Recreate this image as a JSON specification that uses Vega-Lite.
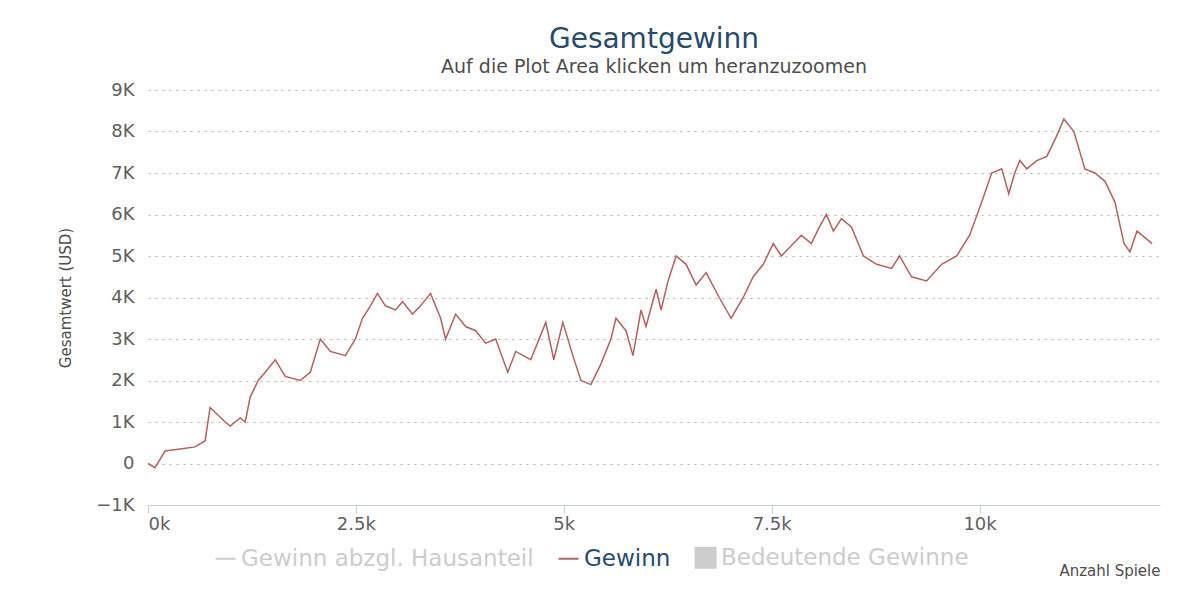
{
  "$schema": "https://vega.github.io/schema/vega-lite/v6.json",
  "width": 1200,
  "height": 604,
  "autosize": {"type": "fit", "contains": "padding"},
  "padding": {"top": 26, "left": 58, "right": 40, "bottom": 26},
  "background": "white",
  "config": {
    "font": "DejaVu Sans",
    "view": {"stroke": null}
  },
  "title": {
    "text": "Gesamtgewinn",
    "subtitle": "Auf die Plot Area klicken um heranzuzoomen",
    "fontSize": 28,
    "fontWeight": "normal",
    "color": "#274b6d",
    "subtitleFontSize": 19,
    "subtitleColor": "#4d4d4d",
    "subtitlePadding": 4,
    "offset": 4
  },
  "data": {
    "values": [
      {"spiele": 0, "wert": 0, "serie": "Gewinn"},
      {"spiele": 84, "wert": -100, "serie": "Gewinn"},
      {"spiele": 205, "wert": 300, "serie": "Gewinn"},
      {"spiele": 386, "wert": 350, "serie": "Gewinn"},
      {"spiele": 566, "wert": 400, "serie": "Gewinn"},
      {"spiele": 687, "wert": 550, "serie": "Gewinn"},
      {"spiele": 747, "wert": 1350, "serie": "Gewinn"},
      {"spiele": 928, "wert": 1000, "serie": "Gewinn"},
      {"spiele": 988, "wert": 900, "serie": "Gewinn"},
      {"spiele": 1109, "wert": 1100, "serie": "Gewinn"},
      {"spiele": 1169, "wert": 1000, "serie": "Gewinn"},
      {"spiele": 1229, "wert": 1600, "serie": "Gewinn"},
      {"spiele": 1325, "wert": 2000, "serie": "Gewinn"},
      {"spiele": 1410, "wert": 2200, "serie": "Gewinn"},
      {"spiele": 1530, "wert": 2500, "serie": "Gewinn"},
      {"spiele": 1651, "wert": 2100, "serie": "Gewinn"},
      {"spiele": 1831, "wert": 2000, "serie": "Gewinn"},
      {"spiele": 1952, "wert": 2200, "serie": "Gewinn"},
      {"spiele": 2072, "wert": 3000, "serie": "Gewinn"},
      {"spiele": 2193, "wert": 2700, "serie": "Gewinn"},
      {"spiele": 2374, "wert": 2600, "serie": "Gewinn"},
      {"spiele": 2494, "wert": 3000, "serie": "Gewinn"},
      {"spiele": 2579, "wert": 3500, "serie": "Gewinn"},
      {"spiele": 2675, "wert": 3800, "serie": "Gewinn"},
      {"spiele": 2759, "wert": 4100, "serie": "Gewinn"},
      {"spiele": 2855, "wert": 3800, "serie": "Gewinn"},
      {"spiele": 2976, "wert": 3700, "serie": "Gewinn"},
      {"spiele": 3061, "wert": 3900, "serie": "Gewinn"},
      {"spiele": 3181, "wert": 3600, "serie": "Gewinn"},
      {"spiele": 3278, "wert": 3800, "serie": "Gewinn"},
      {"spiele": 3398, "wert": 4100, "serie": "Gewinn"},
      {"spiele": 3519, "wert": 3500, "serie": "Gewinn"},
      {"spiele": 3579, "wert": 3000, "serie": "Gewinn"},
      {"spiele": 3699, "wert": 3600, "serie": "Gewinn"},
      {"spiele": 3820, "wert": 3300, "serie": "Gewinn"},
      {"spiele": 3940, "wert": 3200, "serie": "Gewinn"},
      {"spiele": 4061, "wert": 2900, "serie": "Gewinn"},
      {"spiele": 4181, "wert": 3000, "serie": "Gewinn"},
      {"spiele": 4326, "wert": 2200, "serie": "Gewinn"},
      {"spiele": 4422, "wert": 2700, "serie": "Gewinn"},
      {"spiele": 4603, "wert": 2500, "serie": "Gewinn"},
      {"spiele": 4784, "wert": 3400, "serie": "Gewinn"},
      {"spiele": 4880, "wert": 2500, "serie": "Gewinn"},
      {"spiele": 4989, "wert": 3400, "serie": "Gewinn"},
      {"spiele": 5109, "wert": 2600, "serie": "Gewinn"},
      {"spiele": 5206, "wert": 2000, "serie": "Gewinn"},
      {"spiele": 5326, "wert": 1900, "serie": "Gewinn"},
      {"spiele": 5447, "wert": 2400, "serie": "Gewinn"},
      {"spiele": 5567, "wert": 3000, "serie": "Gewinn"},
      {"spiele": 5628, "wert": 3500, "serie": "Gewinn"},
      {"spiele": 5748, "wert": 3200, "serie": "Gewinn"},
      {"spiele": 5832, "wert": 2600, "serie": "Gewinn"},
      {"spiele": 5929, "wert": 3700, "serie": "Gewinn"},
      {"spiele": 5989, "wert": 3300, "serie": "Gewinn"},
      {"spiele": 6110, "wert": 4200, "serie": "Gewinn"},
      {"spiele": 6170, "wert": 3700, "serie": "Gewinn"},
      {"spiele": 6254, "wert": 4400, "serie": "Gewinn"},
      {"spiele": 6351, "wert": 5000, "serie": "Gewinn"},
      {"spiele": 6471, "wert": 4800, "serie": "Gewinn"},
      {"spiele": 6592, "wert": 4300, "serie": "Gewinn"},
      {"spiele": 6712, "wert": 4600, "serie": "Gewinn"},
      {"spiele": 6869, "wert": 4000, "serie": "Gewinn"},
      {"spiele": 7013, "wert": 3500, "serie": "Gewinn"},
      {"spiele": 7158, "wert": 4000, "serie": "Gewinn"},
      {"spiele": 7278, "wert": 4500, "serie": "Gewinn"},
      {"spiele": 7399, "wert": 4800, "serie": "Gewinn"},
      {"spiele": 7519, "wert": 5300, "serie": "Gewinn"},
      {"spiele": 7616, "wert": 5000, "serie": "Gewinn"},
      {"spiele": 7857, "wert": 5500, "serie": "Gewinn"},
      {"spiele": 7977, "wert": 5300, "serie": "Gewinn"},
      {"spiele": 8074, "wert": 5700, "serie": "Gewinn"},
      {"spiele": 8158, "wert": 6000, "serie": "Gewinn"},
      {"spiele": 8242, "wert": 5600, "serie": "Gewinn"},
      {"spiele": 8339, "wert": 5900, "serie": "Gewinn"},
      {"spiele": 8459, "wert": 5700, "serie": "Gewinn"},
      {"spiele": 8604, "wert": 5000, "serie": "Gewinn"},
      {"spiele": 8761, "wert": 4800, "serie": "Gewinn"},
      {"spiele": 8942, "wert": 4700, "serie": "Gewinn"},
      {"spiele": 9038, "wert": 5000, "serie": "Gewinn"},
      {"spiele": 9182, "wert": 4500, "serie": "Gewinn"},
      {"spiele": 9363, "wert": 4400, "serie": "Gewinn"},
      {"spiele": 9544, "wert": 4800, "serie": "Gewinn"},
      {"spiele": 9725, "wert": 5000, "serie": "Gewinn"},
      {"spiele": 9881, "wert": 5500, "serie": "Gewinn"},
      {"spiele": 10026, "wert": 6300, "serie": "Gewinn"},
      {"spiele": 10146, "wert": 7000, "serie": "Gewinn"},
      {"spiele": 10267, "wert": 7100, "serie": "Gewinn"},
      {"spiele": 10351, "wert": 6500, "serie": "Gewinn"},
      {"spiele": 10423, "wert": 7000, "serie": "Gewinn"},
      {"spiele": 10484, "wert": 7300, "serie": "Gewinn"},
      {"spiele": 10568, "wert": 7100, "serie": "Gewinn"},
      {"spiele": 10688, "wert": 7300, "serie": "Gewinn"},
      {"spiele": 10809, "wert": 7400, "serie": "Gewinn"},
      {"spiele": 10929, "wert": 7900, "serie": "Gewinn"},
      {"spiele": 11014, "wert": 8300, "serie": "Gewinn"},
      {"spiele": 11134, "wert": 8000, "serie": "Gewinn"},
      {"spiele": 11267, "wert": 7100, "serie": "Gewinn"},
      {"spiele": 11387, "wert": 7000, "serie": "Gewinn"},
      {"spiele": 11508, "wert": 6800, "serie": "Gewinn"},
      {"spiele": 11628, "wert": 6300, "serie": "Gewinn"},
      {"spiele": 11737, "wert": 5300, "serie": "Gewinn"},
      {"spiele": 11809, "wert": 5100, "serie": "Gewinn"},
      {"spiele": 11893, "wert": 5600, "serie": "Gewinn"},
      {"spiele": 12014, "wert": 5400, "serie": "Gewinn"},
      {"spiele": 12075, "wert": 5300, "serie": "Gewinn"}
    ]
  },
  "mark": {"type": "line", "strokeWidth": 1.5, "interpolate": "linear"},
  "encoding": {
    "x": {
      "field": "spiele",
      "type": "quantitative",
      "scale": {"domain": [0, 12170], "nice": false},
      "axis": {
        "values": [0, 2500, 5000, 7500, 10000],
        "labelExpr": "datum.value / 1000 + 'k'",
        "title": "Anzahl Spiele",
        "titleAnchor": "end",
        "titleFontSize": 15,
        "titleFontWeight": "normal",
        "titleColor": "#4d4d4d",
        "titlePadding": 30,
        "labelFontSize": 18,
        "labelColor": "#606060",
        "grid": false,
        "domainColor": "#c0d0e0",
        "tickColor": "#c0d0e0",
        "tickSize": 8
      }
    },
    "y": {
      "field": "wert",
      "type": "quantitative",
      "scale": {"domain": [-1000, 9000], "nice": false},
      "axis": {
        "values": [-1000, 0, 1000, 2000, 3000, 4000, 5000, 6000, 7000, 8000, 9000],
        "labelExpr": "datum.value == 0 ? '0' : (datum.value < 0 ? '\u22121K' : datum.value / 1000 + 'K')",
        "title": "Gesamtwert (USD)",
        "titleFontSize": 15,
        "titleFontWeight": "normal",
        "titleColor": "#4d4d4d",
        "titlePadding": 22,
        "labelFontSize": 18,
        "labelColor": "#606060",
        "labelPadding": 14,
        "domain": false,
        "ticks": false,
        "gridColor": "#b0b0b0",
        "gridDash": [2, 5]
      }
    },
    "color": {
      "field": "serie",
      "type": "nominal",
      "scale": {
        "domain": ["Gewinn abzgl. Hausanteil", "Gewinn", "Bedeutende Gewinne"],
        "range": ["#cccccc", "#b5615f", "#cccccc"]
      },
      "legend": {
        "orient": "none",
        "legendX": 66,
        "legendY": 456,
        "direction": "horizontal",
        "title": null,
        "labelFontSize": 23,
        "labelLimit": 400,
        "symbolSize": 400,
        "columnPadding": 20,
        "encode": {
          "labels": {"update": {"fill": {"signal": "datum.label === 'Gewinn' ? '#274b6d' : '#cccccc'"}}},
          "symbols": {"update": {
            "shape": {"signal": "datum.label === 'Bedeutende Gewinne' ? 'square' : 'stroke'"},
            "fill": {"signal": "datum.label === 'Bedeutende Gewinne' ? '#cccccc' : 'transparent'"},
            "strokeWidth": {"value": 2}
          }}
        }
      }
    }
  }
}
